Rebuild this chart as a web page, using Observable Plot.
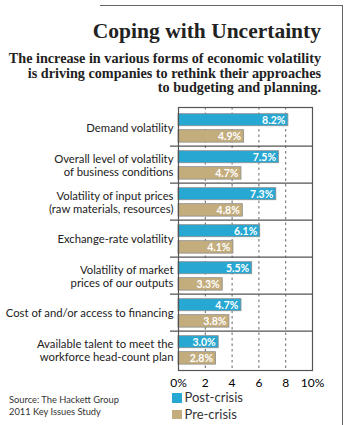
<!DOCTYPE html>
<html><head><meta charset="utf-8">
<script src="https://cdn.jsdelivr.net/npm/d3@7"></script>
<script src="https://cdn.jsdelivr.net/npm/@observablehq/plot@0.6"></script>
<style>
body{margin:0;background:#fff;}
#wrap{position:relative;width:350px;height:425px;overflow:hidden;background:#fff;}
#wrap svg{position:absolute;left:0;top:0;}
.frameTop{position:absolute;left:100px;top:5px;width:243px;height:0;border-top:1.3px solid #666;}
.frameRight{position:absolute;left:342px;top:5px;width:0;height:425px;border-left:1.3px solid #666;}
.title{position:absolute;right:29px;top:18.8px;font-family:"Liberation Serif",serif;font-weight:bold;font-size:21.5px;line-height:normal;color:#222;white-space:nowrap;}
.sub{position:absolute;right:29px;top:51.3px;font-family:"Liberation Serif",serif;font-weight:bold;font-size:14.2px;line-height:14.4px;text-align:right;color:#222;white-space:nowrap;}
.src{position:absolute;left:9px;top:394px;font-family:Lato,sans-serif;font-size:9.3px;line-height:12.4px;color:#333;}
.leg{position:absolute;left:172px;font-family:Lato,sans-serif;font-size:13px;line-height:13px;color:#333;white-space:nowrap;}
.leg span{display:inline-block;width:9.5px;height:9.5px;margin-right:3px;vertical-align:-0.5px;}
</style></head><body>
<div id="wrap">
<div class="frameTop"></div><div class="frameRight"></div>
<div class="title">Coping with Uncertainty</div>
<div class="sub">The increase in various forms of economic volatility<br>is driving companies to rethink their approaches<br>to budgeting and planning.</div>
<div class="src">Source: The Hackett Group<br>2011 Key Issues Study</div>
<div id="legend"></div>
</div>
<script>
const categories = [
  "Demand volatility",
  "Overall level of volatility\nof business conditions",
  "Volatility of input prices\n(raw materials, resources)",
  "Exchange-rate volatility",
  "Volatility of market\nprices of our outputs",
  "Cost of and/or access to financing",
  "Available talent to meet the\nworkforce head-count plan"
];
const postCrisis = [8.2, 7.5, 7.3, 6.1, 5.5, 4.7, 3.0];
const preCrisis = [4.9, 4.7, 4.8, 4.1, 3.3, 3.8, 2.8];
const xTicks = [0, 2, 4, 6, 8, 10];
const xTickLabels = ["0%", "2", "4", "6", "8", "10%"];
const gridTicks = [2, 4, 6, 8];
const seriesNames = ["Post-crisis", "Pre-crisis"];
const seriesColors = ["#27a8d2", "#c4ad7d"];

const post = categories.map((c, i) => ({category: c, value: postCrisis[i]}));
const pre = categories.map((c, i) => ({category: c, value: preCrisis[i]}));

const W = 350, H = 425, mT = 107, mB = 55, mL = 178, mR = 38;
const step = (H - mT - mB) / categories.length;

const chart = Plot.plot({
  width: W, height: H,
  marginTop: mT, marginBottom: mB, marginLeft: mL, marginRight: mR,
  style: {fontFamily: "Lato, sans-serif", background: "transparent", overflow: "visible"},
  x: {domain: [0, 10], ticks: xTicks, tickFormat: d => xTickLabels[xTicks.indexOf(d)], tickSize: 0, tickPadding: 8, label: null},
  y: {domain: categories, type: "band", padding: 0, axis: null},
  marks: [
    Plot.ruleX(gridTicks, {stroke: "#666", strokeDasharray: "2.5,3", strokeWidth: 1}),
    Plot.barX(post, {x: "value", y: "category", fill: seriesColors[0], stroke: "#8c8c8c", strokeWidth: 0.8, insetTop: 4.7, insetBottom: step - 17.3}),
    Plot.barX(pre, {x: "value", y: "category", fill: seriesColors[1], stroke: "#8c8c8c", strokeWidth: 0.8, insetTop: 20.7, insetBottom: step - 33.7}),
    Plot.text(post, {x: "value", y: "category", text: d => d.value.toFixed(1) + "%", textAnchor: "end", dx: -3, dy: 11 - step / 2, fill: "white", fontWeight: "bold", fontSize: 10.5}),
    Plot.text(pre, {x: "value", y: "category", text: d => d.value.toFixed(1) + "%", textAnchor: "end", dx: -3, dy: 27.2 - step / 2, fill: "white", fontWeight: "bold", fontSize: 10.5}),
    Plot.ruleY(categories.slice(1), {y: d => d, x1: -0.6, x2: 10, stroke: "#555", strokeWidth: 1.2, dy: -step / 2}),
    Plot.frame({stroke: "#555", strokeWidth: 1.2}),
    Plot.text(categories, {x: 0, y: d => d, text: d => d, textAnchor: "end", dx: -5, fontSize: 11.3, fill: "#222", lineHeight: 1.18})
  ]
});
chart.querySelectorAll("g[aria-label='x-axis'] text, g[aria-label='x-axis tick label'] text").forEach(t => { t.style.fontSize = "12px"; });
document.getElementById("wrap").insertBefore(chart, document.getElementById("wrap").firstChild);

const legend = document.getElementById("legend");
seriesNames.forEach((n, i) => {
  const d = document.createElement("div");
  d.className = "leg";
  d.style.top = (391 + i * 16.5) + "px";
  d.innerHTML = `<span style="background:${seriesColors[i]}"></span>${n}`;
  legend.appendChild(d);
});
</script>
</body></html>
